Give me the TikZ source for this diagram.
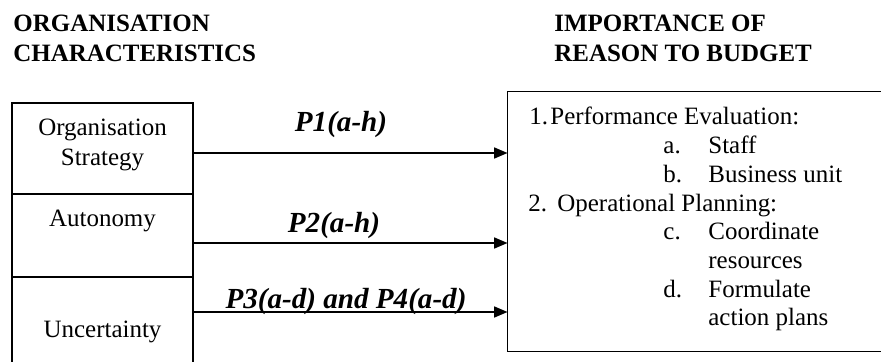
\documentclass[tikz,border=0pt]{standalone}
\usepackage{fontspec}
\setmainfont{Liberation Serif}
\usetikzlibrary{arrows.meta,fit}
\begin{document}
\begin{tikzpicture}[x=0.4808pt,y=-0.4808pt,
  box/.style={draw, line width=0.8pt, inner sep=0pt},
  side/.style={line width=0.8pt},
  txt/.style={font=\fontsize{12}{13.8}\selectfont, inner sep=0pt, anchor=base west},
  ctxt/.style={font=\fontsize{12}{13.8}\selectfont, inner sep=0pt, anchor=base},
  head/.style={font=\fontsize{12}{14}\selectfont\bfseries, inner sep=0pt, anchor=base west},
  lab/.style={font=\fontsize{14}{16}\selectfont\bfseries\itshape, inner sep=0pt, anchor=base},
  conn/.style={line width=0.8pt, -{Triangle[length=6.5pt,width=5.3pt]}}]
\useasboundingbox (0,0) rectangle (881,362);
\clip (0,0) rectangle (881,362);
% headings
\node[head] (h1a) at (13,32) {ORGANISATION};
\node[head] (h1b) at (13,62) {CHARACTERISTICS};
\node[head] (h2a) at (554,32) {IMPORTANCE OF};
\node[head] (h2b) at (554,62) {REASON TO BUDGET};
% left boxes
\node[box, fit={(12,103) (193,194)}] (org) {};
\node[box, fit={(12,194) (193,277)}] (aut) {};
\node[box, fit={(12,277) (193,420)}] (unc) {};
\node[ctxt] (orgt1) at (102.5,136) {Organisation};
\node[ctxt] (orgt2) at (102.5,166) {Strategy};
\node[ctxt] (autt) at (102.5,227) {Autonomy};
\node[ctxt] (unct) at (102.5,338) {Uncertainty};
% right box (runs past the right edge of the picture)
\node[inner sep=0pt, fit={(508,92) (1000,351)}] (imp) {};
\draw[side] (imp.north east) -- (imp.north west) -- (imp.south west) -- (imp.south east);
\node[txt] (n1) at (529,125) {1.};
\node[txt] (l1) at (550,125) {Performance Evaluation:};
\node[txt] (na) at (663,153.7) {a.};
\node[txt] (la) at (708,153.7) {Staff};
\node[txt] (nb) at (663,182.4) {b.};
\node[txt] (lb) at (708,182.4) {Business unit};
\node[txt] (n2) at (528,211.1) {2.};
\node[txt] (l2) at (557,211.1) {Operational Planning:};
\node[txt] (nc) at (663,239.8) {c.};
\node[txt] (lc1) at (708,239.8) {Coordinate};
\node[txt] (lc2) at (708,268.5) {resources};
\node[txt] (nd) at (663,297.2) {d.};
\node[txt] (ld1) at (708,297.2) {Formulate};
\node[txt] (ld2) at (708,325.9) {action plans};
% connectors
\draw[conn] (org.east |- 0,153) -- (imp.west |- 0,153);
\draw[conn] (aut.east |- 0,243) -- (imp.west |- 0,243);
\draw[conn] (unc.east |- 0,312) -- (imp.west |- 0,312);
\node[lab] (p1) at (341,132) {P1(a-h)};
\node[lab] (p2) at (334,233) {P2(a-h)};
\node[lab] (p3) at (346,309) {P3(a-d) and P4(a-d)};
\end{tikzpicture}
\end{document}
